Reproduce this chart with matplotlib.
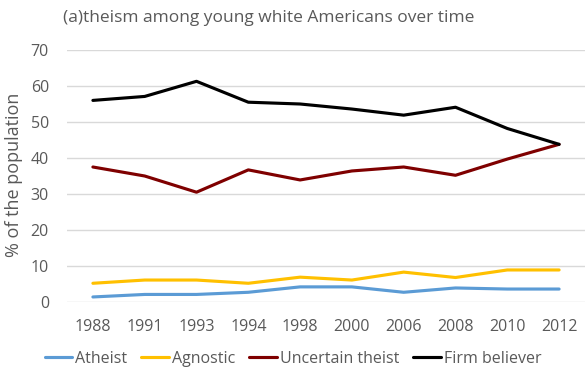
import matplotlib
matplotlib.use("Agg")
import matplotlib.pyplot as plt

years = ["1988", "1991", "1993", "1994", "1998", "2000", "2006", "2008", "2010", "2012"]
atheist = [1.4, 2.1, 2.1, 2.7, 4.2, 4.2, 2.7, 3.9, 3.6, 3.6]
agnostic = [5.2, 6.1, 6.1, 5.2, 6.9, 6.1, 8.3, 6.8, 8.9, 8.9]
uncertain = [37.5, 35.0, 30.5, 36.7, 33.9, 36.4, 37.5, 35.2, 39.7, 43.8]
firm = [56.0, 57.1, 61.3, 55.5, 55.0, 53.6, 51.9, 54.1, 48.2, 43.8]

plt.rcParams['font.family'] = ['Open Sans', 'DejaVu Sans']
txt = '#595959'

fig = plt.figure(figsize=(5.86, 3.73), dpi=100)
ax = fig.add_axes([67 / 586, 1 - 302 / 373, (585 - 67) / 586, (302 - 50) / 373])

x = range(len(years))
series = [(atheist, 'Atheist', '#5b9bd5'),
          (agnostic, 'Agnostic', '#ffc000'),
          (uncertain, 'Uncertain theist', '#7f0000'),
          (firm, 'Firm believer', '#000000')]
for vals, name, col in series:
    ax.plot(x, vals, color=col, lw=2.25, label=name, solid_capstyle='round')

ax.set_ylim(0, 70)
ax.set_yticks(range(0, 71, 10))
ax.set_xlim(-0.5, len(years) - 0.5)
ax.set_xticks(list(x))
ax.set_xticklabels(years)
ax.grid(axis='y', color='#d9d9d9', lw=1)
ax.set_axisbelow(True)
for s in ax.spines.values():
    s.set_visible(False)
ax.tick_params(length=0, labelsize=11.5, colors=txt)
ax.tick_params(axis='x', pad=12)
ax.tick_params(axis='y', pad=13)

fig.text(14 / 586, 1 - 175 / 373, '% of the population', rotation=90, ha='center', va='center',
         fontsize=13, color=txt)
fig.text(63 / 586, 1 - 18 / 373, '(a)theism among young white Americans over time', ha='left', va='center',
         fontsize=12.5, color=txt)

leg = fig.legend(loc='center', bbox_to_anchor=(0.5, 1 - 359 / 373), ncol=4, frameon=False,
                 fontsize=11.5, handlelength=1.7, handletextpad=0.2, columnspacing=0.9)
for t in leg.get_texts():
    t.set_color(txt)

fig.savefig('out.png', dpi=100)
